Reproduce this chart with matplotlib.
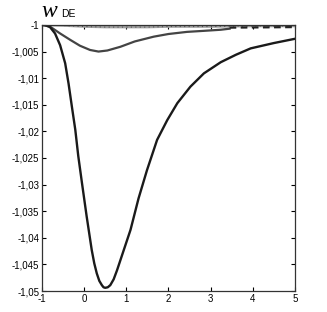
import matplotlib
matplotlib.use("Agg")
import matplotlib.pyplot as plt
from matplotlib.ticker import FuncFormatter

# strong curve
x_big = [-1, -0.93, -0.81, -0.69, -0.57, -0.45, -0.37, -0.29, -0.21, -0.14, -0.05,
         0.06, 0.18, 0.24, 0.30, 0.36, 0.42, 0.46, 0.5, 0.56, 0.62, 0.70, 0.78,
         0.94, 1.10, 1.29, 1.49, 1.73, 1.97, 2.21, 2.52, 2.84, 3.24, 3.6, 3.95, 4.5, 5]
y_big = [-1, -1.0, -1.0004, -1.0016, -1.0038, -1.0072, -1.011, -1.0154, -1.0197,
         -1.0246, -1.0298, -1.036, -1.0423, -1.0448, -1.0467, -1.0481, -1.0489,
         -1.0493, -1.0494, -1.0493, -1.0489, -1.0478, -1.0461, -1.0423, -1.0385,
         -1.0326, -1.0273, -1.0216, -1.0179, -1.0147, -1.0116, -1.0091, -1.007,
         -1.0056, -1.0044, -1.0034, -1.0026]

# medium curve
x_mid = [-1, -0.81, -0.57, -0.33, -0.1, 0.14, 0.34, 0.55, 0.86, 1.2, 1.65, 2.0,
         2.44, 2.85, 3.24, 3.45]
y_mid = [-1, -1.0003, -1.0016, -1.0028, -1.0039, -1.0047, -1.005, -1.0048,
         -1.0041, -1.0031, -1.0022, -1.0017, -1.0013, -1.0011, -1.0009, -1.0007]

# weak curve
x_small = [-1, -0.5, 0, 0.5, 1, 1.5, 2, 3, 4, 5]
y_small = [-1, -1.0001, -1.0003, -1.0004, -1.0004, -1.0004, -1.0003, -1.0003, -1.0002, -1.0002]

# dashed tail
x_dash = [3.45, 5]
y_dash = [-1.0005, -1.0004]

xticks = [-1, 0, 1, 2, 3, 4, 5]
yticks = [-1, -1.005, -1.01, -1.015, -1.02, -1.025, -1.03, -1.035, -1.04, -1.045, -1.05]

plt.rcParams['font.family'] = ['Liberation Sans Narrow', 'Liberation Sans', 'DejaVu Sans']

fig = plt.figure(figsize=(3.27, 3.12), dpi=100)
ax = fig.add_axes([0.1284, 0.0673, 0.7736, 0.8527])

ax.plot(x_small, y_small, color="#a0a0a0", lw=1.8)
ax.plot(x_small, y_small, color="#555555", lw=0.8, ls=(0, (1, 3)))
ax.plot(x_mid, y_mid, color="#444444", lw=1.6)
ax.plot(x_dash, y_dash, color="#222222", lw=1.6, ls=(0, (3, 2)))
ax.plot(x_big, y_big, color="#1a1a1a", lw=1.7)

ax.set_xlim(-1, 5)
ax.set_ylim(-1.05, -1)
ax.set_xticks(xticks)
ax.set_yticks(yticks)


def comma(v, pos):
    s = "%g" % v
    return s.replace(".", ",")


ax.yaxis.set_major_formatter(FuncFormatter(comma))
ax.xaxis.set_major_formatter(FuncFormatter(comma))
ax.tick_params(direction="in", top=True, right=True, labelsize=7, length=3, width=0.8, pad=2)
for s in ax.spines.values():
    s.set_linewidth(0.9)
    s.set_color("#333333")

fig.text(0.126, 0.945, "w", fontsize=17, family="Liberation Serif", style="italic", va="baseline")
fig.text(0.186, 0.945, "DE", fontsize=7.5, va="baseline")

fig.savefig("out.png", dpi=100)
